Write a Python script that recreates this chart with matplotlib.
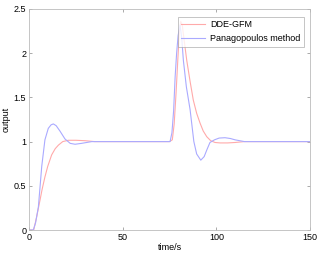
import numpy as np
import matplotlib
matplotlib.use('Agg')
import matplotlib.pyplot as plt

# values
t_dde = [0, 2.5, 4, 5.9, 7, 8.5, 10, 12.1, 14, 15.7, 18, 21, 25, 30, 35, 40, 50, 60, 70,
         75, 76.5, 77.5, 78.5, 79.5, 80.3, 81, 81.8, 82.8, 84.2, 86, 87.7, 89.5, 91.3,
         93, 94.9, 97, 99.3, 102, 106, 110, 115, 120, 130, 140, 150]
y_dde = [0, 0.0, 0.14, 0.34, 0.46, 0.60, 0.72, 0.85, 0.92, 0.96, 1.0, 1.015, 1.015, 1.01, 1.0, 1.0, 1.0, 1.0, 1.0,
         1.0, 1.02, 1.2, 1.55, 1.95, 2.25, 2.36, 2.32, 2.15, 1.92, 1.68, 1.47, 1.32, 1.21,
         1.12, 1.055, 1.01, 0.99, 0.985, 0.985, 0.99, 1.0, 1.0, 1.0, 1.0, 1.0]

t_pan = [0, 2.3, 3.5, 5, 6.8, 8.5, 10.3, 11.8, 13, 14.5, 16.5, 19.2, 22, 24.6, 28, 33.5, 40, 50, 60, 70,
         75.3, 76.3, 77.2, 78, 78.8, 79.6, 80.6, 81.5, 82.4, 84, 86, 87, 88, 89.5, 91.7,
         93.5, 95, 96.6, 99, 101.5, 104.6, 107.5, 110, 115, 120, 130, 140, 150]
y_pan = [0, 0.0, 0.08, 0.26, 0.72, 1.02, 1.15, 1.19, 1.20, 1.18, 1.12, 1.03, 0.98, 0.97, 0.98, 1.0, 1.0, 1.0, 1.0, 1.0,
         1.0, 1.1, 1.35, 1.73, 2.0, 2.2, 2.32, 2.18, 1.92, 1.62, 1.36, 1.18, 1.0, 0.86, 0.79,
         0.83, 0.91, 0.99, 1.02, 1.04, 1.044, 1.035, 1.02, 1.0, 1.0, 1.0, 1.0, 1.0]

plt.rcParams['font.family'] = ['Liberation Sans', 'DejaVu Sans']
plt.rcParams['font.size'] = 6.5

fig = plt.figure(figsize=(3.2, 2.57), dpi=100)
ax = fig.add_axes([29 / 320, 27 / 257, 281 / 320, 221 / 257])

ax.plot(t_dde, y_dde, color='#ffaaaa', linewidth=0.8, label='DDE-GFM')
ax.plot(t_pan, y_pan, color='#aaaaff', linewidth=0.8, label='Panagopoulos method')

ax.set_xlim(0, 150)
ax.set_ylim(0, 2.5)
ax.set_xticks([0, 50, 100, 150])
ax.set_yticks([0, 0.5, 1, 1.5, 2, 2.5])
ax.set_yticklabels(['0', '0.5', '1', '1.5', '2', '2.5'])
ax.tick_params(direction='in', length=2, width=0.5, color='#888888', top=True, right=True, pad=2)
for s in ax.spines.values():
    s.set_color('#bbbbbb')
    s.set_linewidth(0.6)

ax.set_xlabel('time/s', labelpad=1)
ax.set_ylabel('output', labelpad=2)

leg = ax.legend(loc='upper right', bbox_to_anchor=(0.995, 0.985), fancybox=False,
                handlelength=2.6, borderpad=0.4, labelspacing=0.5, handletextpad=0.6)
leg.get_frame().set_edgecolor('#999999')
leg.get_frame().set_linewidth(0.5)

fig.savefig('out.png', dpi=100)
